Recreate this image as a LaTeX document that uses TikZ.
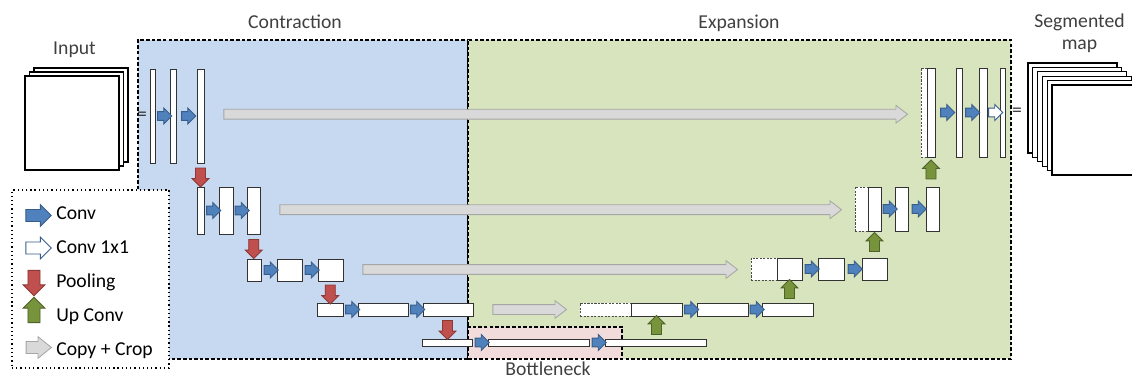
\documentclass[tikz,border=0pt]{standalone}
\usepackage{fontspec}
\setmainfont{Carlito}
\usepackage{xcolor}
\usetikzlibrary{shapes.arrows,fit,calc}

\definecolor{contrfill}{HTML}{C6D9F0}
\definecolor{expfill}{HTML}{D7E4BD}
\definecolor{bottfill}{HTML}{F2DCDB}
\definecolor{convfill}{HTML}{4F81BD}
\definecolor{convline}{HTML}{385D8A}
\definecolor{poolfill}{HTML}{C0504D}
\definecolor{poolline}{HTML}{8C3836}
\definecolor{upfill}{HTML}{77933C}
\definecolor{upline}{HTML}{4F6228}
\definecolor{copyfill}{HTML}{D9D9D9}
\definecolor{copyline}{HTML}{A6A6A6}
\definecolor{textgray}{HTML}{404040}

\begin{document}
\begin{tikzpicture}[x=0.025cm, y=0.025cm, font=\fontsize{14}{17}\selectfont]
\tikzstyle{every node}+=[inner sep=0pt]
\tikzstyle{region}=[draw=black, line width=0.8pt, dash pattern=on 2.5pt off 1.5pt]
\tikzstyle{legendbox}=[draw=black, fill=white, line width=0.9pt, dash pattern=on 0.9pt off 2.1pt]
\tikzstyle{heading}=[text=textgray, anchor=base]
\tikzstyle{stack}=[draw=black, fill=white, line width=0.8pt]
\tikzstyle{blk}=[draw=black!80, fill=white, line width=0.7pt]
\tikzstyle{crop}=[blk, draw=black!70, dash pattern=on 1.5pt off 1pt]
\tikzstyle{arr}=[single arrow, inner xsep=0pt, line width=0.6pt]
\tikzstyle{conv}=[arr, draw=convline, fill=convfill, minimum height=10pt, inner ysep=2.8pt, single arrow head extend=2.6pt]
\tikzstyle{onebyone}=[conv, fill=white]
\tikzstyle{vert}=[arr, minimum height=13.5pt, inner ysep=3.3pt, single arrow head extend=2.4pt]
\tikzstyle{pool}=[vert, draw=poolline, fill=poolfill, rotate=-90]
\tikzstyle{upconv}=[vert, draw=upline, fill=upfill, rotate=90]
\tikzstyle{copycrop}=[arr, draw=copyline, fill=copyfill, inner ysep=3.2pt, single arrow head extend=2.8pt, single arrow tip angle=75]
\tikzstyle{keyarrow}=[minimum height=18pt, inner ysep=4pt, single arrow head extend=3.4pt]

\useasboundingbox (0,0) rectangle (1132,-380);
\clip (0,0) rectangle (1132,-380);

\node[region, fill=contrfill, fit={(138,-40) (468,-359)}] (contr) {};
\node[region, fill=expfill, fit={(468,-40) (1011,-359)}] (expan) {};
\node[region, fill=bottfill, fit={(468,-327) (622,-359)}] (bottl) {};
\node[legendbox, fit={(12,-190) (169,-368)}] (legend) {};

\node[heading] (tcontr) at (295,-29) {Contraction};
\node[heading] (texpan) at (739,-29) {Expansion};
\node[heading] (tbottl) at (548,-375.5) {Bottleneck};
\node[heading] (tinput) at (74.5,-54.5) {Input};
\node[heading] (tseg) at (1079.5,-28) {Segmented};
\node[heading] (tmap) at (1079.5,-50) {map};

\draw[stack] (34,-68) rectangle (128,-162);
\draw[stack] (29.5,-72) rectangle (123.5,-166);
\draw[stack] (25,-76) rectangle (119,-170);

\draw[stack] (1028,-63) rectangle (1117,-153);
\draw[stack] (1032.8,-67.4) rectangle (1121.8,-157.4);
\draw[stack] (1037.6,-71.8) rectangle (1126.6,-161.8);
\draw[stack] (1042.4,-76.2) rectangle (1131.4,-166.2);
\draw[stack] (1047.2,-80.6) rectangle (1136.2,-170.6);
\draw[stack] (1052,-85) rectangle (1141,-175);

\node[text=black!80] (eqin) at (142,-116) {=};
\node[text=black!80] (eqout) at (1017,-112) {=};

\node[blk, fit={(150,-69) (155,-163)}] (c11) {};
\node[blk, fit={(170,-69) (176,-163)}] (c12) {};
\node[blk, fit={(197,-69) (204,-163)}] (c13) {};
\node[blk, fit={(197,-187) (204,-234)}] (c21) {};
\node[blk, fit={(219,-187) (233,-234)}] (c22) {};
\node[blk, fit={(247,-187) (260,-234)}] (c23) {};
\node[blk, fit={(247,-259) (261,-281)}] (c31) {};
\node[blk, fit={(277,-259) (302,-281)}] (c32) {};
\node[blk, fit={(318,-259) (343,-281)}] (c33) {};
\node[blk, fit={(317,-303) (343,-316)}] (c41) {};
\node[blk, fit={(358,-303) (408,-316)}] (c42) {};
\node[blk, fit={(423,-303) (473,-316)}] (c43) {};

\node[blk, fit={(422,-339) (472,-346)}] (b51) {};
\node[blk, fit={(488,-339) (589,-346)}] (b52) {};
\node[blk, fit={(605,-339) (706,-346)}] (b53) {};

\node[crop, fit={(580,-303) (631,-316)}] (d4) {};
\node[blk, fit={(631,-303) (682,-316)}] (e41) {};
\node[blk, fit={(697,-303) (748,-316)}] (e42) {};
\node[blk, fit={(762,-303) (813,-316)}] (e43) {};
\node[crop, fit={(751,-258) (777,-280)}] (d3) {};
\node[blk, fit={(777,-258) (802,-280)}] (e31) {};
\node[blk, fit={(818,-258) (844,-280)}] (e32) {};
\node[blk, fit={(862,-258) (887,-280)}] (e33) {};
\node[crop, fit={(855,-187) (868,-231)}] (d2) {};
\node[blk, fit={(868,-187) (881,-231)}] (e21) {};
\node[blk, fit={(895,-187) (908,-231)}] (e22) {};
\node[blk, fit={(926,-187) (939,-231)}] (e23) {};
\node[crop, fit={(921,-68) (927,-157)}] (d1) {};
\node[blk, fit={(927,-68) (935,-157)}] (e11) {};
\node[blk, fit={(956,-68) (962,-157)}] (e12) {};
\node[blk, fit={(979,-68) (987,-157)}] (e13) {};
\node[blk, fit={(1000,-68) (1005,-157)}] (e14) {};

\node[conv] (c11r) at ($(c11.east)!.5!(c12.west)$) {};
\node[conv] (c12r) at ($(c12.east)!.5!(c13.west)$) {};
\node[conv] (c21r) at ($(c21.east)!.5!(c22.west)$) {};
\node[conv] (c22r) at ($(c22.east)!.5!(c23.west)$) {};
\node[conv] (c31r) at ($(c31.east)!.5!(c32.west)$) {};
\node[conv] (c32r) at ($(c32.east)!.5!(c33.west)$) {};
\node[conv] (c41r) at ($(c41.east)!.5!(c42.west)$) {};
\node[conv] (c42r) at ($(c42.east)!.5!(c43.west)$) {};
\node[conv] (b51r) at ($(b51.east)!.5!(b52.west)$) {};
\node[conv] (b52r) at ($(b52.east)!.5!(b53.west)$) {};
\node[conv] (e41r) at ($(e41.east)!.5!(e42.west)$) {};
\node[conv] (e42r) at ($(e42.east)!.5!(e43.west)$) {};
\node[conv] (e31r) at ($(e31.east)!.5!(e32.west)$) {};
\node[conv] (e32r) at ($(e32.east)!.5!(e33.west)$) {};
\node[conv] (e21r) at ($(e21.east)!.5!(e22.west)$) {};
\node[conv] (e22r) at ($(e22.east)!.5!(e23.west)$) {};
\node[conv] (e11r) at ($(e11.east)!.5!(e12.west)$) {};
\node[conv] (e12r) at ($(e12.east)!.5!(e13.west)$) {};
\node[onebyone] (e13r) at ($(e13.east)!.5!(e14.west)$) {};

\node[pool] (p1) at ($(c13.south)!.5!(c21.north)$) {};
\node[pool] (p2) at ($(c23.south)!.5!(c31.north)$) {};
\node[pool] (p3) at ($(c33.south)!.5!(c41.north)$) {};
\node[pool] (p4) at ($(c43.south)!.5!(b51.north)$) {};

\node[upconv] (u1) at ($(e41.south)!.5!(e41.south |- b53.north)$) {};
\node[upconv] (u2) at ($(e31.south)!.5!(e31.south |- e43.north)$) {};
\node[upconv] (u3) at ($(e21.south)!.5!(e21.south |- e33.north)$) {};
\node[upconv] (u4) at ($(e11.south)!.5!(e11.south |- e23.north)$) {};

\path let \p1=(c13.east), \p2=(d1.west) in node[copycrop, minimum height={\x2-\x1-23pt}] (k1) at ($(c13.east)!.5!(d1.west)$) {};
\path let \p1=(c23.east), \p2=(d2.west) in node[copycrop, minimum height={\x2-\x1-23pt}] (k2) at ($(c23.east)!.5!(d2.west)$) {};
\path let \p1=(c33.east), \p2=(d3.west) in node[copycrop, minimum height={\x2-\x1-23pt}] (k3) at ($(c33.east)!.5!(d3.west)$) {};
\path let \p1=(c43.east), \p2=(d4.west) in node[copycrop, minimum height={\x2-\x1-23pt}] (k4) at ($(c43.east)!.5!(d4.west)$) {};

\node[conv, keyarrow] (kconv) at (35.5,-215.5) {};
\node[onebyone, keyarrow] (kone) at (35.5,-248) {};
\node[pool, keyarrow] (kpool) at (34,-280) {};
\node[upconv, keyarrow] (kup) at (34,-313) {};
\node[copycrop, keyarrow, single arrow tip angle=78] (kcopy) at (35,-347.5) {};
\node[anchor=base west] (lconv) at (56,-219.5) {Conv};
\node[anchor=base west] (lone) at (56,-253.5) {Conv 1x1};
\node[anchor=base west] (lpool) at (56,-287.5) {Pooling};
\node[anchor=base west] (lup) at (56,-321) {Up Conv};
\node[anchor=base west] (lcopy) at (56,-355) {Copy + Crop};
\end{tikzpicture}
\end{document}
